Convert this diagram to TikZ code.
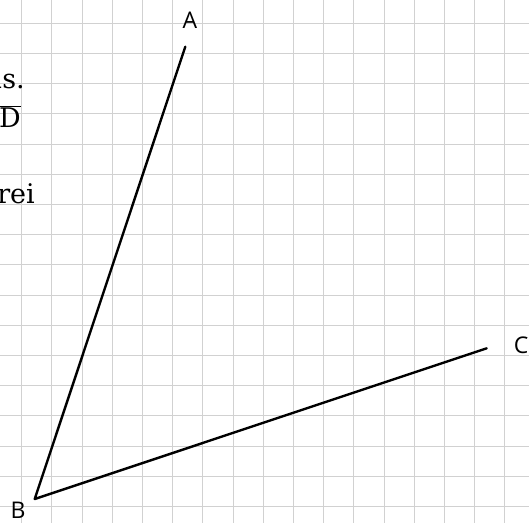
\documentclass[tikz,border=0pt]{standalone}
\usepackage{fontspec}
\setmainfont{DejaVu Serif}
\newfontfamily\labelfont{Open Sans}
\begin{document}
\begin{tikzpicture}[x=1pt,y=-1pt,
  gridline/.style={draw=black!18,line width=1.1pt},
  seg/.style={draw=black,line width=2.4pt,line cap=round,line join=round},
  ptlabel/.style={font=\labelfont\fontsize{23}{27}\selectfont,inner sep=0pt},
  frag/.style={font=\fontsize{27}{31}\selectfont,inner sep=0pt,anchor=base east}]
\useasboundingbox (0,0) rectangle (529,523);
\clip (0,0) rectangle (529,523);
\fill[white] (0,0) rectangle (529,523);
\foreach \k in {0,...,16}{
  \draw[gridline] ({21.7+30.2*\k},0) -- ({21.7+30.2*\k},523);
  \draw[gridline] (0,{23.3+30.2*\k}) -- (529,{23.3+30.2*\k});
}
% text fragments from the cropped page
\node[frag] (t1) at (25,88) {us.};
\node[frag] (t2) at (21,127) {$\overline{\mbox{D}}$};
\node[frag] (t3) at (35,203) {rei};
% points
\coordinate (a) at (185.3,46.7);
\coordinate (b) at (34.7,499);
\coordinate (c) at (486.7,348.3);
\draw[seg] (a) -- (b) -- (c);
\node[ptlabel] (la) at (190,20) {A};
\node[ptlabel] (lb) at (18,510) {B};
\node[ptlabel] (lc) at (521,345) {C};
\end{tikzpicture}
\end{document}
